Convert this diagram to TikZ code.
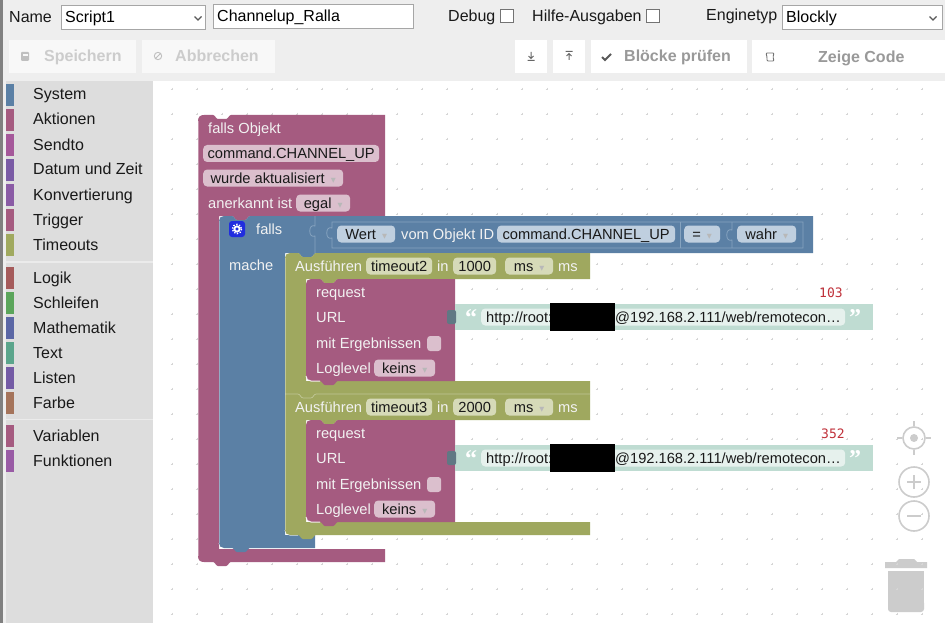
\documentclass[tikz,border=0pt]{standalone}
\usepackage{fontspec}
\setmainfont{Liberation Sans}
\newfontfamily\symfont{DejaVu Sans}
\newfontfamily\monofont{DejaVu Sans Mono}
\newfontfamily\quotefont{Liberation Serif}
\usepackage{xcolor}
\definecolor{pagegrey}{HTML}{EEEEEE}
\definecolor{sidegrey}{HTML}{DDDDDD}
\definecolor{blockmag}{HTML}{A55B80}
\definecolor{blockblue}{HTML}{5B80A5}
\definecolor{blockolive}{HTML}{9FA85F}
\definecolor{fieldmag}{HTML}{DBBFCD}
\definecolor{fieldblue}{HTML}{BFCFDF}
\definecolor{fieldolive}{HTML}{D6DAB8}
\definecolor{strband}{HTML}{BFDCD2}
\definecolor{strfield}{HTML}{E6F1ED}
\definecolor{bluehl}{HTML}{86A3BF}
\definecolor{idlegrey}{HTML}{CCCCCC}
\definecolor{numred}{HTML}{C0313A}
% block edges, y axis runs downward
\def\topnotch{-- ++(0,0) .. controls +(2,0) and +(-2,0) .. ++(5,4) -- ++(8,0) .. controls +(2,0) and +(-2,0) .. ++(5,-4)}
\def\bottab{-- ++(0,0) .. controls +(-2,0) and +(2,0) .. ++(-5,4) -- ++(-8,0) .. controls +(-2,0) and +(2,0) .. ++(-5,-4)}
\newcommand{\ddmark}{\hspace{6pt}\raisebox{1.5pt}{\symfont\fontsize{6.5}{7}\selectfont\textcolor{black!28}{▼}}\hspace{1pt}}
\tikzset{
  lbl/.style={anchor=west, inner sep=0pt, text height=14pt, text depth=3pt, font=\fontsize{14.67}{17}\selectfont},
  blocklbl/.style={lbl, text=white!95!black},
  uilbl/.style={lbl, font=\fontsize{16}{18}\selectfont, text=black!90},
  field/.style={lbl, fill=#1, rounded corners=4pt, text=black!90},
  btn/.style={anchor=west, inner sep=0pt, minimum height=33pt, fill=#1},
  btnlbl/.style={uilbl, font=\fontsize{16}{18}\selectfont\bfseries, text=#1},
  selbox/.style={anchor=west, draw=black!35, fill=white, inner xsep=4pt, inner ysep=0pt, minimum height=24pt, align=left, text height=14pt, text depth=3pt, font=\fontsize{16}{18}\selectfont},
  chkbox/.style={anchor=west, draw=black!55, fill=white, inner sep=0pt, minimum size=13pt},
  catbar/.style={anchor=north west, inner sep=0pt, minimum width=8pt, minimum height=22pt, fill=#1},
  idle/.style={draw=idlegrey, line width=1.6pt},
  edgehl/.style={white, line width=1pt, opacity=.85},
  inputhl/.style={bluehl, line width=.8pt},
  trimhl/.style={white, line width=.6pt, opacity=.35}
}
\begin{document}
\begin{tikzpicture}[x=1pt,y=-1pt]
\useasboundingbox (0,0) rectangle (945,623);
% page, canvas, sidebar
\fill[pagegrey] (0,0) rectangle (945,623);
\fill[white] (153,81) rectangle (945,623);
\fill[sidegrey] (6,81) rectangle (153,623);
\fill[black!50] (0,0) rectangle (2.5,623);
\fill[white!92!black] (6,261) rectangle (153,262.5);
\fill[white!92!black] (6,418.5) rectangle (153,420);

% trash under the grid
\fill[idlegrey] (885,562) -- (896,562) -- (899,559) -- (914,559) -- (917,562) -- (927,562) -- (927,568) -- (885,568) -- cycle;
\fill[idlegrey] (888,571) rectangle (924,609);
\fill[idlegrey, rounded corners=3pt] (888,600) rectangle (924,612);

% grid
\foreach \gx in {172,197,...,922} {
  \foreach \gy in {89,114,...,614} {
    \draw[black!16, line width=.5pt] (\gx-1.3,\gy) -- (\gx+1.3,\gy) (\gx,\gy-1.3) -- (\gx,\gy+1.3);
  }
}

% toolbar
\node[uilbl] (namelbl) at (9,17) {Name};
\node[selbox, text width=136pt] (selscript) at (61,17) {Script1};
\node[selbox, text width=192pt] (scriptname) at (213,16.5) {Channelup\_Ralla};
\node[uilbl] (debuglbl) at (448,16.5) {Debug};
\node[chkbox] (debugchk) at (500,15.5) {};
\node[uilbl] (hilfelbl) at (532,16.5) {Hilfe-Ausgaben};
\node[chkbox] (hilfechk) at (646,15.5) {};
\node[uilbl] (enginelbl) at (706,15.5) {Enginetyp};
\node[selbox, text width=152pt] (selengine) at (782,17) {Blockly};
\foreach \cx in {198,933} {
  \draw[black!65, line width=1.2pt] (\cx-3.5,16.5) -- (\cx,20) -- (\cx+3.5,16.5);
}

% buttons
\node[btn=white!60!pagegrey, minimum width=127pt] (btnsave) at (9,56.5) {};
\node[btn=white!60!pagegrey, minimum width=133pt] (btncancel) at (142,56.5) {};
\node[btn=white, minimum width=32pt] (btndown) at (515,56.5) {};
\node[btn=white, minimum width=32pt] (btnup) at (553,56.5) {};
\node[btn=white, minimum width=156pt] (btncheck) at (591,56.5) {};
\node[btn=white, minimum width=193pt] (btncode) at (752,56.5) {};
\node[btnlbl=black!20] (savelbl) at (44,56.5) {Speichern};
\node[btnlbl=black!20] (cancellbl) at (175,56.5) {Abbrechen};
\node[btnlbl=black!40] (checklbl) at (624,56.5) {Blöcke prüfen};
\node[btnlbl=black!40] (codelbl) at (818,57) {Zeige Code};
% button icons
\fill[black!25, rounded corners=1pt] (21,52) rectangle (29,61);
\fill[white!60!pagegrey] (22.5,54.5) rectangle (27.5,56);
\draw[black!25, line width=.9pt] (158,56) circle (3.7) (155.5,58.5) -- (160.5,53.5);
\draw[black!60, line width=1pt] (531,52) -- (531,58) (528.5,56) -- (531,58.5) -- (533.5,56) (527.5,60.5) -- (534.5,60.5);
\draw[black!60, line width=1pt] (569,60) -- (569,54) (566.5,56) -- (569,53.5) -- (571.5,56) (565.5,51.5) -- (572.5,51.5);
\draw[black!65, line width=1.8pt] (602,57) -- (605,60) -- (611,54);
\draw[black!55, line width=.9pt, rounded corners=1pt] (766,53) -- (774,53) -- (773,57) -- (774,61) -- (767,61) -- (767,57) -- cycle;

% categories
\foreach \cy/\ccol/\clbl/\cname in {
  84/5B80A5/System/catsystem, 109/A55B80/Aktionen/cataktionen, 134/A5589A/Sendto/catsendto,
  159/7A5BA5/Datum und Zeit/catdatum, 184/8A5BA5/Konvertierung/catkonv, 209/A55B80/Trigger/cattrigger,
  234/A0A95F/Timeouts/cattimeouts, 267/A55B5B/Logik/catlogik, 292/5BA55B/Schleifen/catschleifen,
  317/5B67A5/Mathematik/catmathe, 342/5BA58C/Text/cattext, 367/745BA5/Listen/catlisten,
  392/A5745B/Farbe/catfarbe, 425/A55B80/Variablen/catvariablen, 450/995BA5/Funktionen/catfunktionen} {
  \definecolor{barcol}{HTML}{\ccol}
  \node[catbar=barcol] (\cname bar) at (6,\cy) {};
  \node[uilbl] (\cname) at (33,\cy+10.5) {\clbl};
}

% outer trigger block
\fill[blockmag] (198,121) .. controls (198,117) and (200,115) .. (204,115) -- (213,115) \topnotch -- (385,115) -- (385,216) -- (250,216) \bottab -- (219,216) -- (219,549) -- (385,549) -- (385,562) -- (231,562) \bottab -- (204,562) .. controls (200,562) and (198,560) .. (198,556) -- cycle;
\draw[edgehl] (219,543) .. controls (219,546) and (221,548) .. (224,548) -- (232,548);
\draw[trimhl] (198.5,556) -- (198.5,121);

% falls block
\fill[blockblue] (219,221) .. controls (219,218) and (221,216) .. (224,216) -- (232,216) \topnotch -- (813,216) -- (813,253) -- (316,253) \bottab -- (285,253) -- (285,535) -- (315,535) -- (315,548) -- (250,548) \bottab -- (224,548) .. controls (221,548) and (219,546) .. (219,543) -- cycle;
\draw[edgehl] (285,530) .. controls (285,533) and (287,535) .. (290,535) -- (298,535);
\draw[trimhl] (219.5,543) -- (219.5,221);
\draw[inputhl] (315,216) -- (315,226) .. controls (308,223) and (308,239) .. (315,236) -- (315,253);
\draw[inputhl] (332,222) -- (803,222) -- (803,248) -- (332,248) -- (332,238) .. controls (325,241) and (325,225) .. (332,228) -- cycle;
\draw[inputhl] (680,222) -- (680,248);
\draw[inputhl] (732,222) -- (732,230) .. controls (725,227) and (725,243) .. (732,240) -- (732,248);

% gear
\node[anchor=center, fill=blue!65!blockblue, rounded corners=3pt, minimum size=16pt, inner sep=0pt] (gearbox) at (237,229) {};
\draw[white, line width=1.8pt] (gearbox.center) circle (2.6);
\draw[white, line width=1.4pt, dash pattern=on 1.4pt off 1.5pt] (gearbox.center) circle (4.6);

\node[blocklbl] (fallslbl) at (256,229) {falls};
\node[blocklbl] (machelbl) at (229,265) {mache};
\node[blocklbl] (objlbl) at (208,128) {falls Objekt};
\node[field=fieldmag, minimum width=176pt] (objid) at (203,153.5) {command.CHANNEL\_UP};
\node[field=fieldmag, minimum width=140pt] (aktualisiert) at (203,178) {wurde aktualisiert\ddmark};
\node[blocklbl] (anerkannt) at (208,203) {anerkannt ist};
\node[field=fieldmag, minimum width=54pt] (egal) at (296,203) {egal\ddmark};

% condition
\node[field=fieldblue, minimum width=58pt] (wert) at (337,234) {Wert\ddmark};
\node[blocklbl] (vomobj) at (401,234) {vom Objekt ID};
\node[field=fieldblue, minimum width=178pt] (condid) at (497,234) {command.CHANNEL\_UP};
\node[field=fieldblue, minimum width=36pt] (condeq) at (684,234) {=\ddmark};
\node[field=fieldblue, minimum width=59pt] (wahr) at (737,234) {wahr\ddmark};

% timeout blocks
\fill[blockolive] (285,258) .. controls (285,255) and (287,253) .. (290,253) -- (298,253) \topnotch -- (590,253) -- (590,279) -- (338,279) \bottab -- (306,279) -- (306,381) -- (590,381) -- (590,394) -- (316,394) \bottab -- (285,394) -- cycle;
\fill[blockolive] (285,394) -- (298,394) \topnotch -- (590,394) -- (590,420) -- (338,420) \bottab -- (306,420) -- (306,522) -- (590,522) -- (590,535) -- (316,535) \bottab -- (290,535) .. controls (287,535) and (285,533) .. (285,530) -- cycle;
\draw[trimhl] (285,394) -- (298,394) \topnotch -- (590,394);
\draw[trimhl] (285.5,530) -- (285.5,258);
\foreach \k/\dy/\tname/\tval/\tnum/\nx in {a/0/timeout2/1000/103/819,b/141/timeout3/2000/352/821} {
  \begin{scope}[shift={(0,\dy)}]
    \node[blocklbl] (aus\k) at (295,266) {Ausführen};
    \node[field=fieldolive, minimum width=66pt] (tname\k) at (366,266) {\tname};
    \node[blocklbl] (in\k) at (437,266) {in};
    \node[field=fieldolive, minimum width=43pt] (tval\k) at (453,266) {\tval};
    \node[field=fieldolive, minimum width=48pt] (tunit\k) at (505,266) {ms\ddmark};
    \node[blocklbl] (ms\k) at (558,266) {ms};
    % request block
    \fill[blockmag] (311,279) -- (320,279) \topnotch -- (455,279) -- (455,381) -- (338,381) \bottab -- (311,381) .. controls (308,381) and (306,379) .. (306,376) -- (306,284) .. controls (306,281) and (308,279) .. (311,279) -- cycle;
    \draw[edgehl] (306,376) .. controls (306,379) and (308,381) .. (311,381) -- (320,381);
    \node[blocklbl] (req\k) at (316,292) {request};
    \node[blocklbl] (url\k) at (316,317) {URL};
    \node[blocklbl] (erg\k) at (316,343) {mit Ergebnissen};
    \node[anchor=west, fill=fieldmag, rounded corners=3pt, minimum width=14pt, minimum height=15pt, inner sep=0pt] (chk\k) at (427,343.5) {};
    \node[blocklbl] (log\k) at (316,368) {Loglevel};
    \node[field=fieldmag, minimum width=61pt] (keins\k) at (374,368) {keins\ddmark};
    % string block
    \fill[strband] (455,304) rectangle (873,330);
    \fill[black!40!blockblue!70!strband, rounded corners=2pt] (447,310) rectangle (456,324);
    \node[lbl, text=white, font=\fontsize{24}{24}\selectfont\quotefont\bfseries, text height=8pt, text depth=0pt] (qopen\k) at (465,321) {“};
    \node[field=strfield, minimum width=364pt, text width=354pt, inner xsep=5pt, align=left] (strf\k) at (481,317) {http://root:};
    \node[lbl, text=black!90] (strt\k) at (615,317) {@192.168.2.111/web/remotecon…};
    \node[lbl, text=white, font=\fontsize{24}{24}\selectfont\quotefont\bfseries, text height=8pt, text depth=0pt] (qclose\k) at (849,321) {”};
    \node[anchor=north west, fill=black, minimum width=65pt, minimum height=28pt, inner sep=0pt] (mask\k) at (550,303) {};
    \node[lbl, text=numred, font=\fontsize{13}{15}\selectfont\monofont] (num\k) at (\nx,292) {\tnum};
  \end{scope}
}

% zoom controls
\node[circle, idle, minimum size=22pt, inner sep=0pt] (ctrcircle) at (914,438) {};
\fill[idlegrey] (ctrcircle.center) circle (4);
\draw[idle] (ctrcircle.north) -- ++(0,-5) (ctrcircle.south) -- ++(0,5) (ctrcircle.west) -- ++(-5,0) (ctrcircle.east) -- ++(5,0);
\node[circle, idle, minimum size=30pt, inner sep=0pt] (zoomin) at (914,482) {};
\draw[idle] (zoomin.center) ++(-7,0) -- ++(14,0) (zoomin.center) ++(0,-7) -- ++(0,14);
\node[circle, idle, minimum size=30pt, inner sep=0pt] (zoomout) at (914,516) {};
\draw[idle] (zoomout.center) ++(-7,0) -- ++(14,0);
\end{tikzpicture}
\end{document}
